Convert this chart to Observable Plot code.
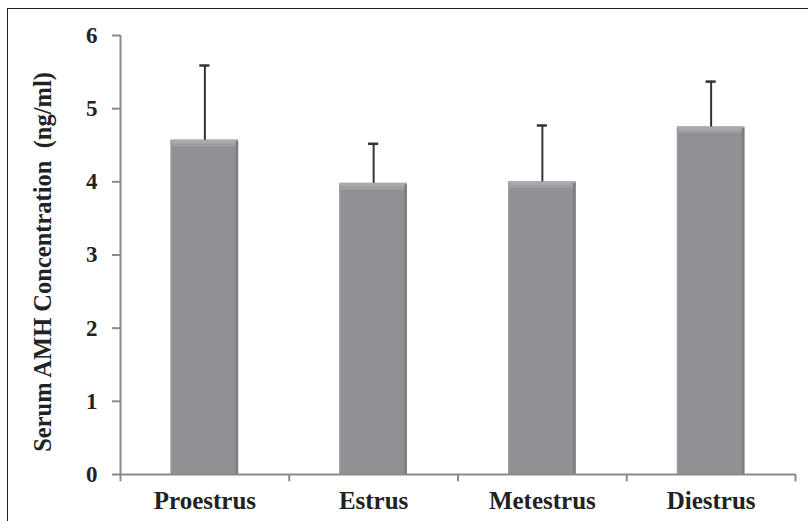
<!DOCTYPE html>
<html><head><meta charset="utf-8">
<script src="https://cdn.jsdelivr.net/npm/d3@7"></script>
<script src="https://cdn.jsdelivr.net/npm/@observablehq/plot@0.6"></script>
<style>
body{margin:0;background:#fff;}
#wrap{position:relative;width:808px;height:521px;overflow:hidden;}
#frame{position:absolute;left:7px;top:8px;width:900px;height:600px;border-left:1.5px solid #222;border-top:1.5px solid #222;}
#chart{position:absolute;left:0;top:0;}
</style></head>
<body><div id="wrap"><div id="frame"></div><div id="chart"></div></div>
<script>
const categories = ["Proestrus", "Estrus", "Metestrus", "Diestrus"];
const means = [4.57, 3.98, 4.00, 4.75];
const sds = [1.02, 0.54, 0.77, 0.62];
const yTicks = [0, 1, 2, 3, 4, 5, 6];
const yLabel = "Serum AMH Concentration  (ng/ml)";

const data = categories.map((c, i) => ({cat: c, i, mean: means[i], sd: sds[i]}));
const bounds = d3.range(categories.length + 1);
const font = "'Liberation Serif', 'Times New Roman', serif";

const plot = Plot.plot({
  width: 808, height: 521,
  marginLeft: 120, marginRight: 13, marginTop: 35, marginBottom: 47,
  style: {fontFamily: font, fontWeight: "bold", fontSize: "22px", color: "#222", background: "transparent"},
  x: {type: "linear", domain: [0, categories.length], axis: null},
  y: {domain: [0, 6], axis: null},
  marks: [
    // bars
    Plot.rectY(data, {x1: d => d.i + 0.3, x2: d => d.i + 0.7, y1: 0, y2: "mean", fill: "#909195"}),
    // top bevel
    Plot.rectY(data, {x1: d => d.i + 0.3, x2: d => d.i + 0.7, y1: d => d.mean - 0.09, y2: "mean", fill: "#a9aaae"}),
    Plot.rectY(data, {x1: d => d.i + 0.305, x2: d => d.i + 0.695, y1: d => d.mean - 0.09, y2: d => d.mean - 0.05, fill: "#9d9ea2"}),
    // right edge
    Plot.rectY(data, {x1: d => d.i + 0.685, x2: d => d.i + 0.7, y1: 0, y2: d => d.mean - 0.02, fill: "#7c7d81"}),
    // left edge
    Plot.rectY(data, {x1: d => d.i + 0.3, x2: d => d.i + 0.307, y1: 0, y2: d => d.mean - 0.02, fill: "#9a9b9f"}),
    // error bars
    Plot.ruleX(data, {x: d => d.i + 0.5, y1: "mean", y2: d => d.mean + d.sd, stroke: "#333", strokeWidth: 2}),
    Plot.ruleY(data, {y: d => d.mean + d.sd, x1: d => d.i + 0.47, x2: d => d.i + 0.53, stroke: "#333", strokeWidth: 2.5}),
    // y axis
    Plot.ruleX([0], {y1: 0, y2: 6, stroke: "#8a8a8a", strokeWidth: 2}),
    Plot.axisY(yTicks, {tickSize: 8, tickPadding: 15, tickFormat: d3.format("d"), stroke: "#8a8a8a", strokeWidth: 2, fontSize: 23, fill: "#222", label: null}),
    // x axis
    Plot.ruleY([0], {stroke: "#8a8a8a", strokeWidth: 2}),
    Plot.ruleX(bounds, {y1: 0, y2: -0.1, stroke: "#8a8a8a", strokeWidth: 2}),
    Plot.text(data, {x: d => d.i + 0.5, y: 0, text: "cat", dy: 26, fontSize: 25, fill: "#222", fontWeight: "bold"})
  ]
});
document.getElementById("chart").appendChild(plot);

// y-axis title
const svg = d3.select(plot);
svg.append("text")
  .attr("transform", "translate(45,262) rotate(-90)")
  .attr("text-anchor", "middle")
  .attr("dominant-baseline", "middle")
  .style("font-family", font).style("font-weight", "bold").style("font-size", "24.5px")
  .attr("fill", "#222")
  .attr("xml:space", "preserve")
  .style("white-space", "pre")
  .text(yLabel);
</script></body></html>
